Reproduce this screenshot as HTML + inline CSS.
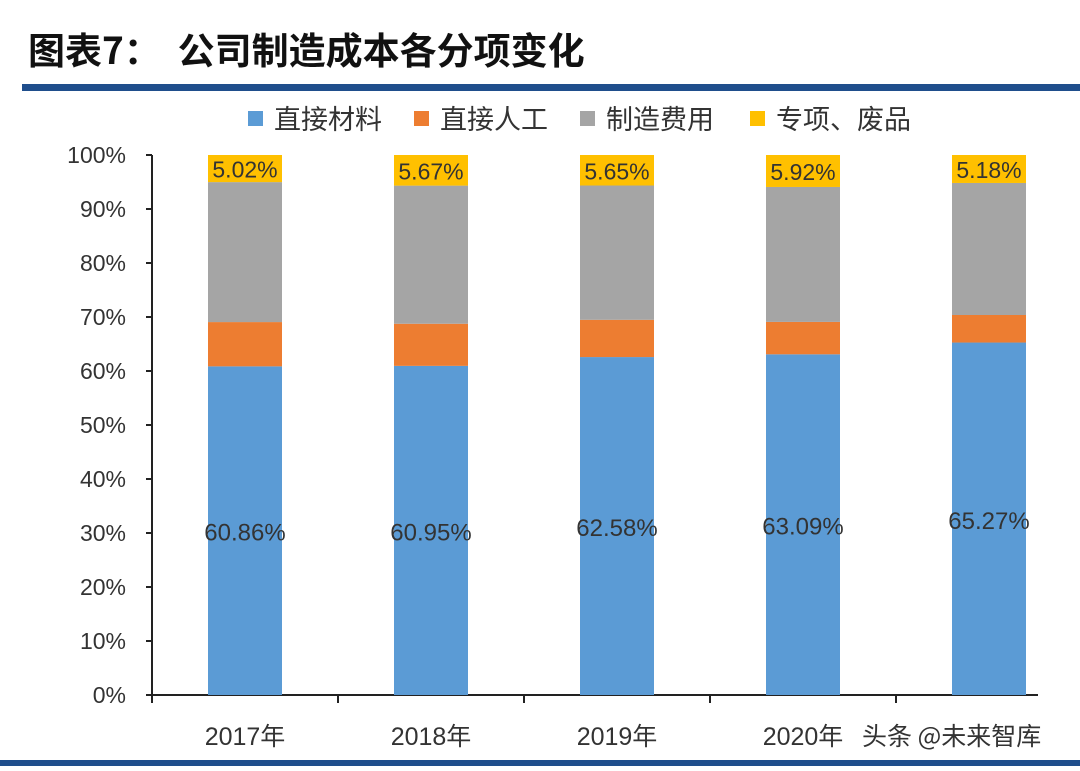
<!DOCTYPE html>
<html><head><meta charset="utf-8"><style>
body{margin:0;background:#fff;width:1080px;height:766px;overflow:hidden;font-family:"Liberation Sans","Noto Sans CJK SC",sans-serif}
</style></head><body>
<svg width="1080" height="766" xmlns="http://www.w3.org/2000/svg">
<text x="28" y="64" font-size="37" font-weight="bold" fill="#111" font-family="'Noto Sans CJK SC',sans-serif">图表7：&#160;&#160;公司制造成本各分项变化</text>
<rect x="22" y="84" width="1058" height="7" fill="#1f4e8c"/>
<rect x="0" y="760" width="1080" height="6" fill="#1f4e8c"/>
<g id="legend" font-size="27" fill="#333" font-family="'Noto Sans CJK SC',sans-serif"></g>
<g id="axes"></g>
<g id="bars"></g>
<text x="862" y="745" font-size="25" fill="#333" font-family="'Noto Sans CJK SC',sans-serif">头条 @未来智库</text>
</svg>
<script>
const categories=["2017年","2018年","2019年","2020年","2021年"];
const showCat=[true,true,true,true,false];
const material=[60.86,60.95,62.58,63.09,65.27];
const labor=[8.2,7.8,6.9,6.0,5.1];
const overhead=[25.92,25.58,24.87,24.99,24.45];
const scrap=[5.02,5.67,5.65,5.92,5.18];
const yTicks=[0,10,20,30,40,50,60,70,80,90,100];
const seriesNames=["直接材料","直接人工","制造费用","专项、废品"];
const colors=["#5b9bd5","#ed7d31","#a5a5a5","#ffc000"];
const NS="http://www.w3.org/2000/svg";
const x0=152,axisEnd=1038,y0=695,y100=155;
const bw=186,barW=74;
const yS=v=>y0-(y0-y100)*v/100;
function mk(t,a,p){const e=document.createElementNS(NS,t);for(const k in a)e.setAttribute(k,a[k]);p.appendChild(e);return e;}
const ax=document.getElementById('axes'),bars=document.getElementById('bars'),lg=document.getElementById('legend');
const yl=mk('line',{x1:x0,y1:y100,x2:x0,y2:y0,stroke:'#222','stroke-width':2},ax);


const xl=mk('line',{x1:x0,y1:y0,x2:axisEnd,y2:y0,stroke:'#222','stroke-width':2},ax);


yTicks.forEach(v=>{
  mk('line',{x1:x0-6,y1:yS(v),x2:x0,y2:yS(v),stroke:'#222','stroke-width':2},ax);
  const t=mk('text',{x:x0-26,y:yS(v)+8,'text-anchor':'end','font-size':23,fill:'#333'},ax);
  t.textContent=v+'%';
  
  
});
for(let i=0;i<categories.length;i++){mk('line',{x1:x0+i*bw,y1:y0,x2:x0+i*bw,y2:y0+8,stroke:'#222','stroke-width':2},ax);}
categories.forEach((c,i)=>{
  const cx=x0+bw*(i+0.5);
  if(showCat[i]){const t=mk('text',{x:cx,y:745,'text-anchor':'middle','font-size':25,fill:'#333','font-family':"'Liberation Sans','Noto Sans CJK SC',sans-serif"},ax);
  t.textContent=c;
  
  }
  const vals=[material[i],labor[i],overhead[i],scrap[i]];
  let cum=0;
  vals.forEach((v,s)=>{
    const r=mk('rect',{x:cx-barW/2,y:yS(cum+v),width:barW,height:yS(cum)-yS(cum+v),fill:colors[s]},bars);
    
    
    cum+=v;
  });
  const t1=mk('text',{x:cx,y:yS(material[i]/2)+10,'text-anchor':'middle','font-size':24,fill:'#333'},bars);
  t1.textContent=material[i].toFixed(2)+'%';
  
  
  const t2=mk('text',{x:cx,y:yS(100-scrap[i]/2)+9,'text-anchor':'middle','font-size':23,fill:'#333'},bars);
  t2.textContent=scrap[i].toFixed(2)+'%';
  
  
});
const lx=[248,414,580,750];
seriesNames.forEach((n,i)=>{
  const g=mk('g',{},lg);
  
  
  mk('rect',{x:lx[i],y:111,width:15,height:15,fill:colors[i]},g);
  const t=mk('text',{x:lx[i]+26,y:129},g);t.textContent=n;
});
</script>
</body></html>
